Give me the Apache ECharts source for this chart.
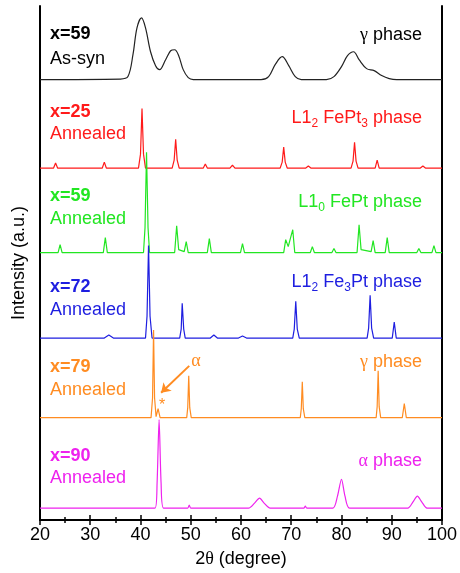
<!DOCTYPE html>
<html>
<head>
<meta charset="utf-8">
<script src="https://cdn.jsdelivr.net/npm/echarts@6/dist/echarts.min.js"></script>
<style>
  html, body { margin: 0; padding: 0; background: #fff; }
  #chart { width: 460px; height: 573px; }
</style>
</head>
<body>
<div id="chart"></div>
<script>
// 2θ / intensity pairs (intensity above its own baseline)
const asSyn59 = [[20,0],[36,0.5],[37.5,3],[38.5,25],[39.3,52],[40.2,62],[41,52],[42,28],[43,14],[43.8,10],[45,20],[46,29],[46.8,30],[47.6,24],[48.5,10],[49.5,2],[50.5,0],[64,0],[65.5,3],[66.8,15],[68.2,23],[69.5,14],[70.8,3],[72,0],[77,0],[78.5,3],[80,13],[81.2,24],[82.4,28],[83.5,20],[85,11],[86.5,9],[88,4],[89.5,1],[91,0],[100,0]]
const ann25 = [[20,0],[22.7,0],[23.1,5],[23.5,0],[32.4,0],[32.8,6],[33.2,0],[39.6,0],[40.0,14],[40.3,60],[40.6,14],[41.0,0],[46.3,0],[46.7,8],[47.0,29],[47.3,8],[47.7,0],[52.5,0],[52.9,4],[53.3,0],[57.8,0],[58.3,3],[58.8,0],[67.8,0],[68.2,6],[68.5,21],[68.8,6],[69.2,0],[72.9,0],[73.4,2],[73.9,0],[81.9,0],[82.3,7],[82.6,26],[82.9,7],[83.3,0],[86.7,0],[87.1,8],[87.5,0],[95.7,0],[96.2,2],[96.7,0],[100,0]]
const ann59 = [[20,0],[23.6,0],[24.0,8],[24.4,0],[32.6,0],[33.0,15],[33.4,0],[40.6,0],[40.9,25],[41.2,101],[41.5,25],[41.8,0],[46.8,0],[47.2,27],[47.6,3],[48.7,1],[49.1,11],[49.5,0],[53.3,0],[53.7,14],[54.1,0],[59.9,0],[60.3,9],[60.7,0],[68.5,0],[68.9,13],[69.4,6],[70.3,23],[70.7,0],[73.8,0],[74.2,6],[74.6,0],[78.1,0],[78.5,4],[78.9,0],[83.1,0],[83.5,28],[83.9,3],[85.9,1],[86.3,12],[86.7,0],[88.7,0],[89.1,15],[89.5,0],[95.0,0],[95.4,4],[95.8,0],[98.0,0],[98.4,7],[98.8,0],[100,0]]
const ann72 = [[20,0],[32.8,0],[33.7,3],[34.6,0],[41.0,0],[41.3,22],[41.6,93],[41.9,22],[42.3,0],[47.8,0],[48.1,9],[48.3,35],[48.6,9],[48.9,0],[53.9,0],[54.6,3],[55.3,0],[59.5,0],[60.3,2],[61.1,0],[70.3,0],[70.6,9],[70.9,37],[71.2,9],[71.6,0],[85.1,0],[85.4,10],[85.7,43],[86.0,10],[86.4,0],[90.1,0],[90.5,16],[90.9,0],[100,0]]
const ann79 = [[20,0],[42.1,0],[42.4,20],[42.6,88],[42.8,20],[43.1,1],[43.5,9],[43.9,0],[49.2,0],[49.4,10],[49.6,42],[49.8,10],[50.1,0],[71.8,0],[72.0,9],[72.2,36],[72.4,9],[72.7,0],[86.9,0],[87.1,11],[87.3,47],[87.5,11],[87.8,0],[92.1,0],[92.5,14],[92.9,0],[100,0]]
const ann90 = [[20,0],[42.9,0],[43.3,25],[43.7,89],[44.1,25],[44.6,0],[49.4,0],[49.7,3],[50.0,0],[61.5,0],[62.7,5],[63.7,10],[64.6,5],[65.8,0],[72.5,0],[72.8,2],[73.1,0],[78.3,0],[79.2,12],[80.0,29],[80.7,12],[81.6,0],[93.2,0],[94.2,6],[95.1,12],[96.0,6],[97.0,0],[100,0]]

// vertical offset of each pattern in the stack
const offsets = [443, 354, 269, 183, 103, 12]
const patterns = [asSyn59, ann25, ann59, ann72, ann79, ann90]
const colors = ['#000000', '#ff1a1a', '#22e622', '#1e1ee0', '#ff8c22', '#ee22ee']
const smoothing = [0.35, 0, 0, 0, 0, 0.25]
const sampleNames = ['x=59', 'x=25', 'x=59', 'x=72', 'x=79', 'x=90']
const stateNames = ['As-syn', 'Annealed', 'Annealed', 'Annealed', 'Annealed', 'Annealed']
const phaseNames = [
  '{g|γ}{n| phase}',
  '{n|L1}{s|2}{n| FePt}{s|3}{n| phase}',
  '{n|L1}{s|0}{n| FePt phase}',
  '{n|L1}{s|2}{n| Fe}{s|3}{n|Pt phase}',
  '{g|γ}{n| phase}',
  '{g|α}{n| phase}',
]
// arrow pointing to the alpha reflection in the x=79 pattern
const alphaArrow = [[49.7, 155], [44.1, 128]]

const sans = 'Liberation Sans, Arial, sans-serif'
const serif = 'Liberation Serif, Times New Roman, serif'
const rich = {
  n: { fontSize: 18, fontFamily: sans, lineHeight: 24 },
  s: { fontSize: 12, fontFamily: sans, lineHeight: 12, verticalAlign: 'bottom' },
  g: { fontSize: 18, fontFamily: serif, lineHeight: 24 },
}

const chart = echarts.init(document.getElementById('chart'))

const series = patterns.map((p, i) => ({
  type: 'line',
  data: p.map((d) => [d[0], d[1] + offsets[i]]),
  showSymbol: false,
  smooth: smoothing[i],
  lineStyle: { color: i === 0 ? '#222' : colors[i], width: 1.2 },
  z: 2 + i,
  silent: true,
}))
series[4].markLine = {
  silent: true,
  symbol: ['none', 'arrow'],
  symbolSize: 9,
  label: { show: false },
  lineStyle: { color: colors[4], width: 2, type: 'solid' },
  data: [[{ coord: alphaArrow[0] }, { coord: alphaArrow[1] }]],
}

// label rows (pixel centres)
const sampleY = [34, 112, 196, 287, 367, 456]
const stateY = [59, 134, 219, 310, 390, 478]
const phaseY = [35, 118, 202, 282, 362, 461]

const graphic = []
for (let i = 0; i < 6; i++) {
  graphic.push({
    type: 'text', x: 50, y: sampleY[i], z: 20,
    style: { text: sampleNames[i], fill: colors[i], font: 'bold 18px ' + sans, textAlign: 'left', textVerticalAlign: 'middle' },
  })
  graphic.push({
    type: 'text', x: 50, y: stateY[i], z: 20,
    style: { text: stateNames[i], fill: colors[i], font: '18px ' + sans, textAlign: 'left', textVerticalAlign: 'middle' },
  })
  graphic.push({
    type: 'text', x: 422, y: phaseY[i], z: 20,
    style: { text: phaseNames[i], fill: colors[i], rich: rich, textAlign: 'right', textVerticalAlign: 'middle' },
  })
}
graphic.push({
  type: 'text', x: 196, y: 361, z: 20,
  style: { text: 'α', fill: colors[4], font: '18px ' + serif, textAlign: 'center', textVerticalAlign: 'middle' },
})
graphic.push({
  type: 'text', x: 162, y: 406, z: 20,
  style: { text: '*', fill: colors[4], font: '16px ' + sans, textAlign: 'center', textVerticalAlign: 'middle' },
})

const axisLine = { show: true, lineStyle: { color: '#000', width: 2 } }
const option = {
  animation: false,
  backgroundColor: '#fff',
  grid: { left: 40, right: 17, top: 6, bottom: 50 },
  xAxis: [
    {
      type: 'value', min: 20, max: 100, interval: 10, position: 'bottom',
      axisLine: axisLine,
      axisTick: { inside: true, length: 5, lineStyle: { color: '#000', width: 1.5 } },
      minorTick: { show: true, splitNumber: 2, length: 3, lineStyle: { color: '#000', width: 1.5 } },
      splitLine: { show: false },
      axisLabel: { color: '#000', fontSize: 18, fontFamily: sans, margin: 6 },
      name: '2{g|θ} (degree)',
      nameLocation: 'middle',
      nameGap: 30,
      nameTextStyle: { color: '#000', fontSize: 18, fontFamily: sans, rich: { g: { fontSize: 18, fontFamily: serif, color: '#000' } } },
    },
    {
      type: 'value', min: 20, max: 100, interval: 10, position: 'top',
      axisLine: axisLine,
      axisTick: { inside: true, length: 5, lineStyle: { color: '#000', width: 1.5 } },
      minorTick: { show: true, splitNumber: 2, length: 3, lineStyle: { color: '#000', width: 1.5 } },
      splitLine: { show: false },
      axisLabel: { show: false },
    },
  ],
  yAxis: [
    {
      type: 'value', min: 0, max: 517, position: 'left',
      axisLine: axisLine,
      axisTick: { show: false },
      axisLabel: { show: false },
      splitLine: { show: false },
      name: 'Intensity (a.u.)',
      nameLocation: 'middle',
      nameGap: 12,
      nameTextStyle: { color: '#000', fontSize: 18, fontFamily: sans },
    },
    {
      type: 'value', min: 0, max: 517, position: 'right',
      axisLine: axisLine,
      axisTick: { show: false },
      axisLabel: { show: false },
      splitLine: { show: false },
    },
  ],
  series: series,
  graphic: graphic,
}
chart.setOption(option)
window.addEventListener('resize', () => chart.resize())
</script>
</body>
</html>
